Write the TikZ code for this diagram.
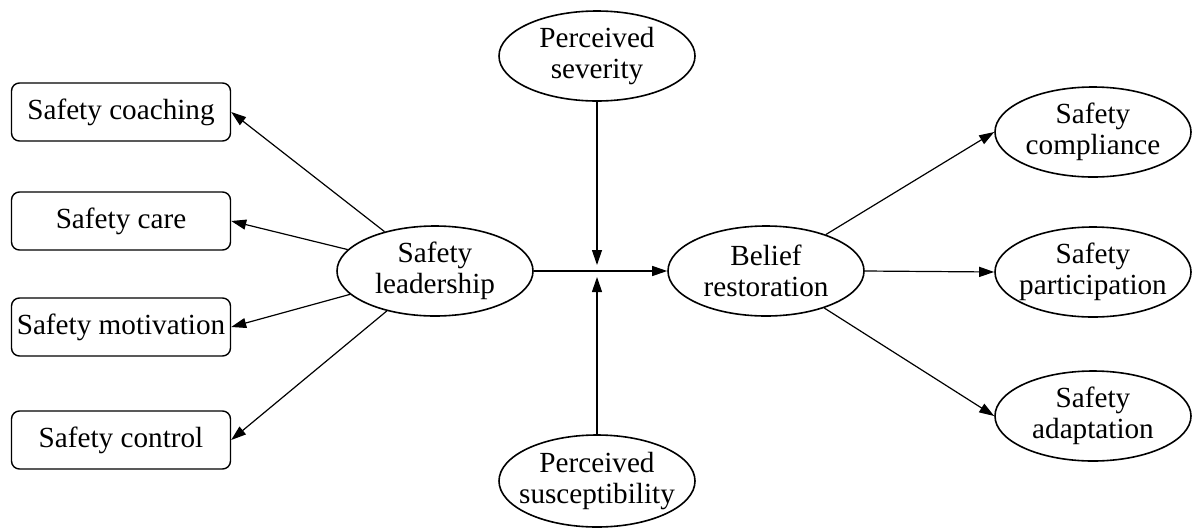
\documentclass[tikz,border=0pt]{standalone}
\usepackage{fontspec}
\setmainfont{Liberation Serif}
\usetikzlibrary{arrows.meta,shapes.geometric}
\begin{document}
\begin{tikzpicture}[x=0.5pt,y=-0.5pt,
  every node/.style={font=\fontsize{14.6}{15.5}\selectfont, align=center, inner sep=0pt},
  rbox/.style={draw, line width=0.7pt, rounded corners=4pt, minimum width=109.5pt, minimum height=29pt},
  ell/.style={draw, line width=0.8pt, ellipse, minimum width=98pt, minimum height=45pt},
  conn/.style={line width=0.6pt, -{Triangle[length=7.5pt,width=5pt]}}]
\useasboundingbox (0,0) rectangle (1195,531);
% left boxes
\node[rbox] (coach) at (121,112) {Safety coaching};
\node[rbox] (care) at (121,221) {Safety care};
\node[rbox] (motiv) at (121,327) {Safety motivation};
\node[rbox] (ctrl) at (121,440) {Safety control};
% ellipses (fixed size, text set separately)
\node[ell] (lead) at (435,271) {};
\node (leadt) at (lead) {Safety\\leadership};
\node[ell] (sev) at (597,56) {};
\node (sevt) at (sev) {Perceived\\severity};
\node[ell, minimum height=46pt] (sus) at (597,481) {};
\node (sust) at (sus) {Perceived\\susceptibility};
\node[ell] (bel) at (766,271) {};
\node (belt) at (bel) {Belief\\restoration};
\node[ell] (comp) at (1093,132) {};
\node (compt) at (comp) {Safety\\compliance};
\node[ell] (part) at (1093,272) {};
\node (partt) at (part) {Safety\\participation};
\node[ell] (adap) at (1093,416) {};
\node (adapt) at (adap) {Safety\\adaptation};
% junction
\coordinate (jtop) at (597,265);
\coordinate (jbot) at (597,277);
% connectors
\draw[conn] (lead) -- (coach.east);
\draw[conn] (lead) -- (care.east);
\draw[conn] (lead) -- (motiv.east);
\draw[conn] (lead) -- (ctrl.east);
\draw[conn] (lead.east) -- (bel.west);
\draw[conn] (sev.south) -- (jtop);
\draw[conn] (sus.north) -- (jbot);
\draw[conn] (bel) -- (comp.west);
\draw[conn] (bel.east) -- (part.west);
\draw[conn] (bel) -- (adap.west);
\end{tikzpicture}
\end{document}
